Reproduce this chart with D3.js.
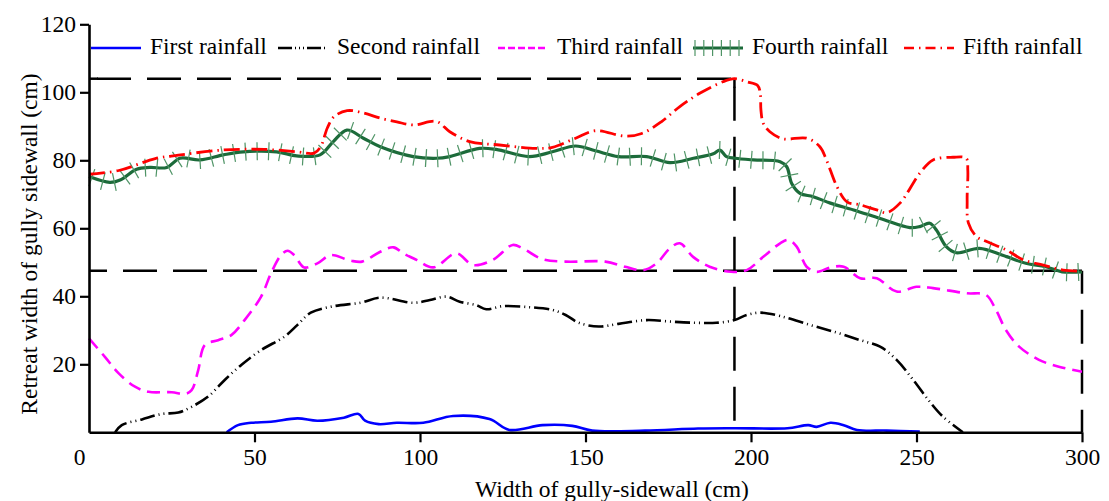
<!DOCTYPE html>
<html>
<head>
<meta charset="utf-8">
<script src="https://cdn.jsdelivr.net/npm/d3@7"></script>
<style>
	body { margin: 0; background: #fff; }
</style>
</head>
<body>
<svg id="chart" width="1109" height="501"></svg>
<script>
// series: [width of gully-sidewall, retreat width] in cm
var firstRain = [[41.6,0],[45,2.1],[49,2.8],[55,3.1],[63,4.1],[69,3.4],[77,4.3],[81.4,5.4],[83.4,3.4],[87.5,2.4],[93,2.8],[101,2.8],[110,4.8],[121,3.9],[127,0.7],[137,2.1],[146,1.9],[152,0.5],[168,0.5],[184,1.1],[195,1.2],[211,1.2],[217.3,2.1],[219.8,1.6],[224,2.8],[228,2.1],[232,0.7],[241,0.5],[251,0.2]];
var secondRain = [[7.9,0],[9.9,2.1],[16,3.8],[22,5.4],[27,5.8],[31,7.5],[36,10.5],[41,15.4],[46,19.8],[52,24.2],[59,28.1],[63,31.6],[67,35.2],[74,37.1],[82,38.1],[88,39.6],[98,38.1],[103,38.9],[108,39.9],[112,38.4],[117,37.4],[120,36.2],[125,37.1],[133,36.8],[140,36],[144,34.5],[148,32.2],[154,31.1],[160,31.9],[168.5,33],[176.5,32.5],[183.5,32.2],[189.5,32.2],[195,33],[198.7,34.5],[202.7,35.2],[208.8,34.2],[217.8,31.6],[226,29.3],[233,27.1],[239,25.2],[244,21.3],[249,15.4],[254,9],[258,4.6],[264,0]];
var thirdRain = [[0,27.6],[4.8,22.2],[8.9,17.4],[13.9,13.4],[18,11.9],[25,11.8],[29,11.3],[31,12.4],[33,18.3],[35,25.7],[39,27.1],[43,28.6],[47,33],[52,39.9],[55,46.8],[58,52.1],[60,53.4],[62,52.1],[65,48.5],[69,49.7],[73,52.1],[79,50.5],[82.5,50.2],[88,53.1],[92,54.4],[95,52.6],[99,50.7],[104,48.5],[111,52.6],[116,49.2],[122,50.7],[128,55.1],[131,54.1],[137,50.9],[144,50.2],[156,50.2],[162,48.7],[167.5,47.7],[171.5,49.7],[175.5,54.1],[178.5,55.6],[182.5,51.6],[187.5,48.7],[194,47.2],[198.7,47.7],[203.7,51.6],[208.8,55.6],[211.3,56.6],[213.8,54.6],[216.8,48.7],[219.8,47.2],[224,48.5],[228,48.7],[233,45.3],[238,45.3],[244,41.4],[250,42.8],[255,42.4],[265,40.9],[271,40.4],[274,36],[277,30.1],[281,25.2],[287,21.3],[293,19.3],[300,17.8]];
var fourthRain = [[0,75.2],[6.3,73.5],[9.4,74.2],[14.4,77.4],[18.4,77.9],[23.5,77.9],[27.5,80.6],[33.5,80.1],[40.6,81.6],[46.6,82.5],[56.7,82.5],[62.7,81.3],[69.8,81.6],[73.8,85.5],[77.9,88.9],[82.9,86.5],[88,84],[98,81.1],[105,80.6],[109,81.1],[118,83.5],[123,83.2],[133,81.1],[140,82.5],[147,84.2],[153,82.8],[160,81.1],[168.5,81.1],[175.5,79.3],[182.6,80.6],[188.6,81.9],[190.6,83],[192.6,81.1],[195.2,80.6],[200.7,80.1],[208.8,79.6],[210.8,78.1],[212.3,73.2],[214.8,70.3],[218.8,69.3],[224,67.4],[231,65.4],[239,62.9],[248,60.2],[251,60.5],[254,61.5],[256,59.5],[259,54.6],[262,52.8],[269,54.1],[276,52.1],[283,49.7],[289,48.7],[294,47.2],[300,47.2]];
var fifthRain = [[0,75.9],[9,77],[20,80.5],[27,81.5],[40,83],[53,83.2],[63,82.5],[68,82.1],[70,84],[72,89.5],[74,92.8],[78,94.6],[83,93.9],[88,92.4],[93,91.3],[98,90.4],[105,91.4],[109,88.4],[115,85.5],[124,84.5],[135,83.5],[140,83.8],[147,86.5],[153,88.7],[162,87.1],[167,87.9],[173,91.4],[178.5,95.8],[184.5,99.7],[191.5,103.1],[195,104],[198.7,103.1],[202,102],[202.8,99.7],[203,94.8],[203.7,90.9],[205.7,88.4],[209.7,86.3],[216.8,86.5],[220.8,84],[222.8,80.1],[226,72.2],[229,67.8],[233,66.9],[238,65.4],[241,64.6],[245,67.4],[251,76.2],[255,80.1],[261,80.9],[265,80.6],[265.5,77.1],[265.3,68.3],[265.7,61.5],[268.2,57.5],[271.2,56.1],[277.2,53.6],[282.3,50.7],[288.3,49.2],[294.3,47.7],[300,47.4]];

var seriesNames = ["First rainfall","Second rainfall","Third rainfall","Fourth rainfall","Fifth rainfall"];
var xTicks = [0,50,100,150,200,250,300];
var yTicks = [20,40,60,80,100,120];
// dashed guide lines: levels and widths
var guideLevels = [104,47.5];
var guideWidths = [195,300];

var svg = d3.select("#chart");
var x = d3.scaleLinear().domain([0,300]).range([89,1082]);
var y = d3.scaleLinear().domain([0,120]).range([432.3,24.3]);
var fontSize = 23.5;
var fontFam = "Liberation Serif";

//guide lines (dash phase tuned per line)
var guideDash = "34,16";
var hOffsets = [42,16], vOffsets = [-8,11];
guideLevels.forEach(function(lv,i) {
	svg.append("line")
		.attr("x1",x(0)).attr("x2",x(guideWidths[i]))
		.attr("y1",y(lv)).attr("y2",y(lv))
		.attr("stroke","#000").attr("stroke-width",2.5)
		.attr("stroke-dasharray",guideDash).attr("stroke-dashoffset",hOffsets[i]);
	svg.append("line")
		.attr("x1",x(guideWidths[i])).attr("x2",x(guideWidths[i]))
		.attr("y1",y(lv)).attr("y2",y(0))
		.attr("stroke","#000").attr("stroke-width",2.5)
		.attr("stroke-dasharray",guideDash).attr("stroke-dashoffset",vOffsets[i]);
});
//the upper guide starts with a longer dash on both legs
svg.append("line")
	.attr("x1",x(0)).attr("x2",x(0)+9)
	.attr("y1",y(guideLevels[0])).attr("y2",y(guideLevels[0]))
	.attr("stroke","#000").attr("stroke-width",2.5);
svg.append("line")
	.attr("x1",x(guideWidths[0])).attr("x2",x(guideWidths[0]))
	.attr("y1",y(guideLevels[0])).attr("y2",y(guideLevels[0])+9)
	.attr("stroke","#000").attr("stroke-width",2.5);

var line = d3.line()
	.x(function(d) { return x(d[0]); })
	.y(function(d) { return y(d[1]); })
	.curve(d3.curveCatmullRom.alpha(0.5));

var styles = [
	{data:firstRain, color:"#0000ff", width:2.6, dash:null, legendDash:null},
	{data:secondRain, color:"#000000", width:2.6, dash:"15,4,1,4,1,4", legendDash:"14,3,1,3,1,3,1,3"},
	{data:thirdRain, color:"#ff00ff", width:2.6, dash:"13,7", legendDash:"7,3"},
	{data:fourthRain, color:"#1c6b3a", width:3.2, dash:null, legendDash:null},
	{data:fifthRain, color:"#ff0000", width:2.8, dash:"16,5,1.5,5", legendDash:"10,5,1.5,5"}
];

styles.forEach(function(s,i) {
	var p = svg.append("path")
		.datum(s.data)
		.attr("d",line)
		.attr("fill","none")
		.attr("stroke",s.color)
		.attr("stroke-width",s.width)
		.attr("stroke-linejoin","round");
	if (s.dash) p.attr("stroke-dasharray",s.dash);
	//hatch marks of the fourth rainfall
	if (i == 3) {
		var node = p.node();
		var len = node.getTotalLength();
		var step = 11.6, half = 9;
		for (var l = 3; l < len; l += step) {
			var a = node.getPointAtLength(Math.max(0,l-1));
			var b = node.getPointAtLength(Math.min(len,l+1));
			var c = node.getPointAtLength(l);
			var dx = b.x-a.x, dy = b.y-a.y, n = Math.sqrt(dx*dx+dy*dy) || 1;
			var nx = -dy/n, ny = dx/n;
			svg.append("line")
				.attr("x1",c.x-nx*half).attr("y1",c.y-ny*half)
				.attr("x2",c.x+nx*half).attr("y2",c.y+ny*half)
				.attr("stroke","#4f9466").attr("stroke-width",1.2);
		}
	}
});

//axes
var xAxis = d3.axisBottom(x).tickValues(xTicks).tickSize(10).tickSizeOuter(0).tickPadding(6);
var gx = svg.append("g").attr("transform","translate(0,"+y(0)+")").call(xAxis);
gx.attr("font-family",fontFam).attr("font-size",fontSize);
gx.select(".domain").attr("stroke-width",2.6);
gx.selectAll(".tick line").attr("stroke-width",2.2);
gx.selectAll(".tick").filter(function(d) { return d == 0; }).select("line").remove();
gx.selectAll(".tick").filter(function(d) { return d == 0; }).select("text").attr("x",-10);

var yAxis = d3.axisLeft(y).tickValues(yTicks).tickSize(9).tickSizeOuter(0).tickPadding(4);
var gy = svg.append("g").attr("transform","translate("+x(0)+",0)").call(yAxis);
gy.attr("font-family",fontFam).attr("font-size",fontSize);
gy.select(".domain").attr("stroke-width",2.6);
gy.selectAll(".tick line").attr("stroke-width",2.2);

//axis titles
svg.append("text")
	.attr("x",612).attr("y",497)
	.attr("text-anchor","middle")
	.attr("font-family",fontFam).attr("font-size",fontSize)
	.text("Width of gully-sidewall (cm)");
svg.append("text")
	.attr("transform","translate(37,244) rotate(-90)")
	.attr("text-anchor","middle")
	.attr("font-family",fontFam).attr("font-size",fontSize)
	.text("Retreat width of gully sidewall (cm)");

//legend
var legendX = [91,278,498,693,904];
var legendY = 48;
styles.forEach(function(s,i) {
	var g = svg.append("g");
	var l = g.append("line")
		.attr("x1",legendX[i]).attr("x2",legendX[i]+50)
		.attr("y1",legendY).attr("y2",legendY)
		.attr("stroke",s.color).attr("stroke-width",i==3 ? 3 : 2.6);
	if (s.legendDash) l.attr("stroke-dasharray",s.legendDash);
	if (i == 3) {
		for (var k = 0; k < 6; k++) {
			var tx = legendX[i]+2+k*8.8;
			g.append("line")
				.attr("x1",tx).attr("x2",tx)
				.attr("y1",legendY-8).attr("y2",legendY+8)
				.attr("stroke","#4f9466").attr("stroke-width",1.2);
		}
	}
	g.append("text")
		.attr("x",legendX[i]+59).attr("y",legendY+6)
		.attr("font-family",fontFam).attr("font-size",fontSize)
		.text(seriesNames[i]);
});
</script>
</body>
</html>
